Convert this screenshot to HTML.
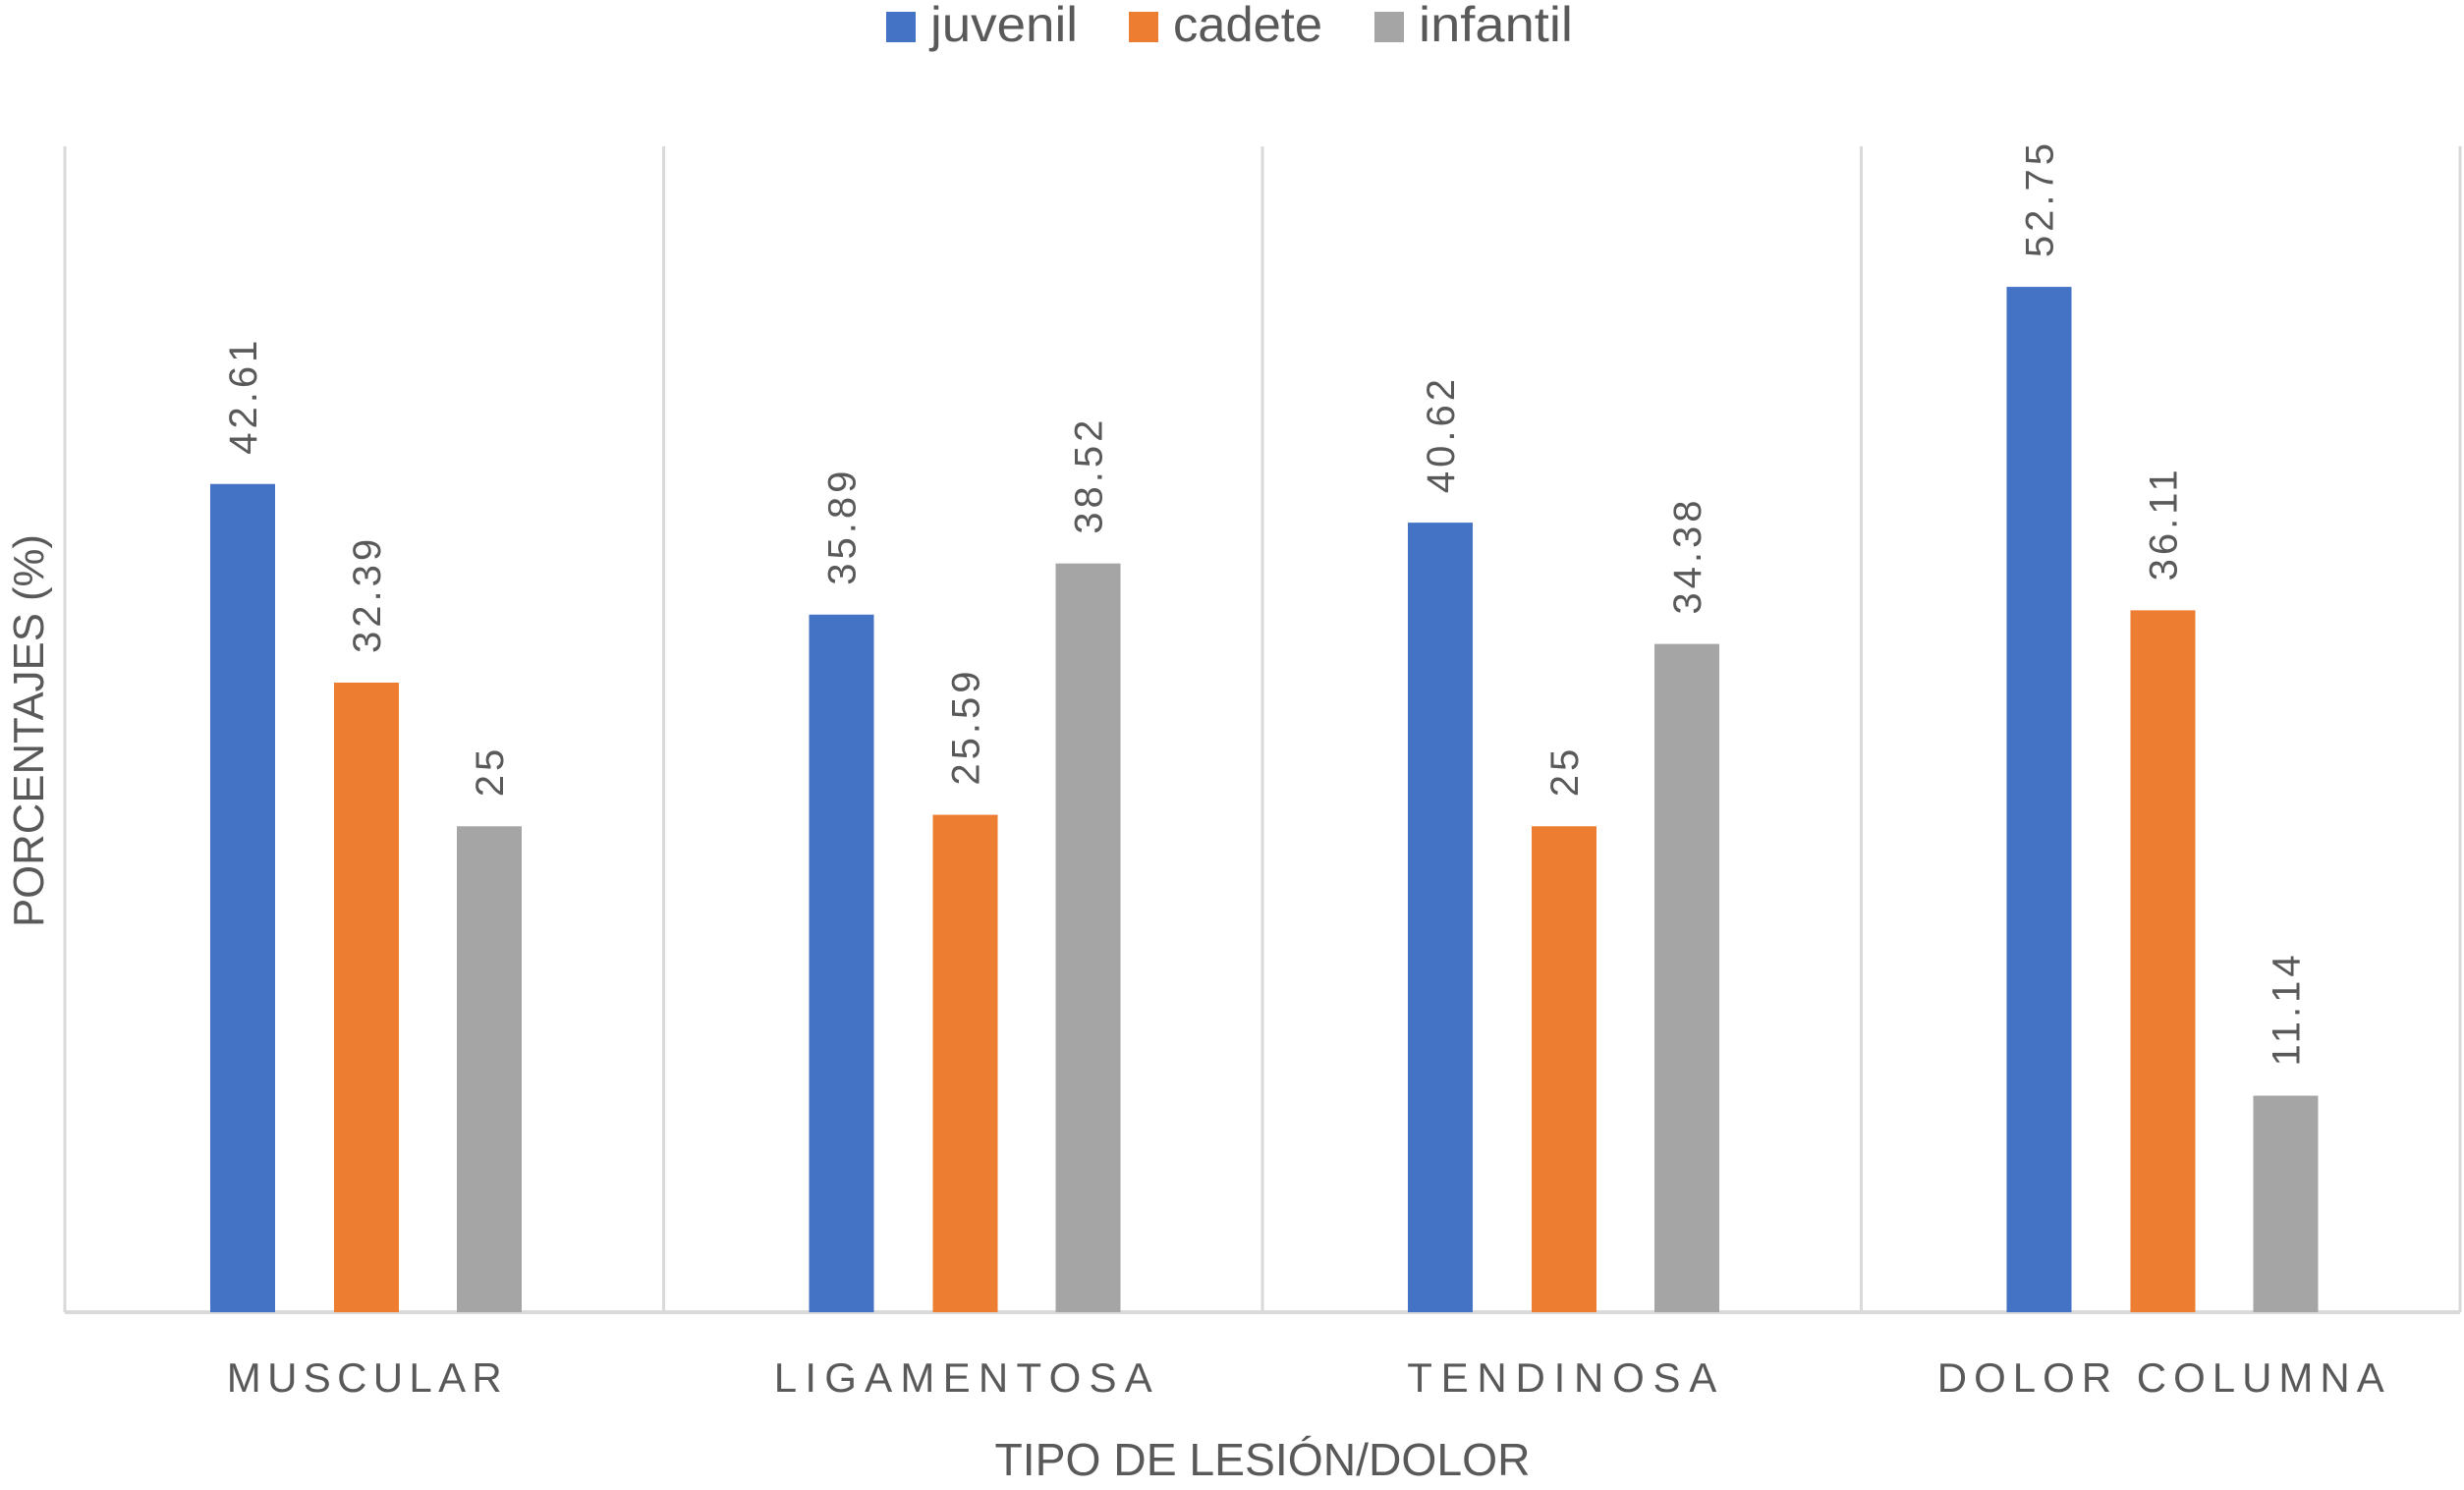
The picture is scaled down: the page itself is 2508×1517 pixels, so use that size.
<!DOCTYPE html>
<html><head><meta charset="utf-8"><style>
body{margin:0;background:#fff;}
svg{display:block;font-family:"Liberation Sans",sans-serif;}
</style></head><body>
<svg id="chart" width="2508" height="1517" viewBox="0 0 2508 1517" xmlns="http://www.w3.org/2000/svg">
<g id="legend">
<g><rect x="902" y="12" width="30" height="31" fill="#4472C4"/><text x="947" y="42" font-size="50" fill="#595959" textLength="150" lengthAdjust="spacingAndGlyphs">juvenil</text></g>
<g><rect x="1149" y="12" width="30" height="31" fill="#ED7D31"/><text x="1194" y="42" font-size="50" fill="#595959" textLength="152" lengthAdjust="spacingAndGlyphs">cadete</text></g>
<g><rect x="1399" y="12" width="30" height="31" fill="#A5A5A5"/><text x="1444" y="42" font-size="50" fill="#595959" textLength="157" lengthAdjust="spacingAndGlyphs">infantil</text></g>
</g>
<g id="grid"></g>
<g id="bars"></g>
<g id="labels"></g>
<text transform="translate(44,744) rotate(-90)" text-anchor="middle" font-size="44" fill="#595959" textLength="400" lengthAdjust="spacingAndGlyphs">PORCENTAJES (%)</text>
<text x="1285" y="1502" text-anchor="middle" font-size="46" fill="#595959" textLength="545" lengthAdjust="spacingAndGlyphs">TIPO DE LESIÓN/DOLOR</text>
</svg>
<script>
const categories = ["MUSCULAR","LIGAMENTOSA","TENDINOSA","DOLOR COLUMNA"];
const seriesNames = ["juvenil","cadete","infantil"];
const juvenil = [42.61, 35.89, 40.62, 52.75];
const cadete = [32.39, 25.59, 25, 36.11];
const infantil = [25, 38.52, 34.38, 11.14];
const valueLabels = [["42.61","35.89","40.62","52.75"],["32.39","25.59","25","36.11"],["25","38.52","34.38","11.14"]];

const NS="http://www.w3.org/2000/svg";
const colors=["#4472C4","#ED7D31","#A5A5A5"];
const series=[juvenil,cadete,infantil];
const x0=66,x1=2504,yBase=1336,yTop=149,pxPerUnit=19.79;
const groupW=(x1-x0)/categories.length;
const barW=66;
const offsets=[148,274,399];
function yScale(v){return yBase-v*pxPerUnit;}
function xBar(ci,si){return x0+ci*groupW+offsets[si];}
function mk(tag,attrs,parent){const e=document.createElementNS(NS,tag);for(const k in attrs)e.setAttribute(k,attrs[k]);parent.appendChild(e);return e;}
const grid=document.getElementById('grid'),bars=document.getElementById('bars'),labels=document.getElementById('labels');
for(let i=0;i<=categories.length;i++){
  const gx=x0+i*groupW;
  const l=mk('line',{x1:gx,x2:gx,y1:yTop,y2:yBase,stroke:'#d9d9d9','stroke-width':3},grid);
  
  
}
const ax=mk('line',{x1:x0,x2:x1,y1:yBase,y2:yBase,stroke:'#d9d9d9','stroke-width':4},grid);


categories.forEach((c,ci)=>{
  const t=mk('text',{x:x0+ci*groupW+groupW/2,y:1417,'text-anchor':'middle','font-size':42,fill:'#595959',textLength:c.length*35,lengthAdjust:'spacing'},labels);
  t.textContent=c;
  
  
  series.forEach((s,si)=>{
    const v=s[ci],bx=xBar(ci,si),ty=yScale(v);
    const r=mk('rect',{x:bx,y:ty,width:barW,height:yBase-ty,fill:colors[si]},bars);
    
    
    const lt=mk('text',{transform:'translate('+(bx+barW/2+14)+','+(ty-30)+') rotate(-90)','font-size':40,fill:'#595959','letter-spacing':4},labels);
    lt.textContent=valueLabels[si][ci];
    
    
  });
});
</script>
</body></html>
